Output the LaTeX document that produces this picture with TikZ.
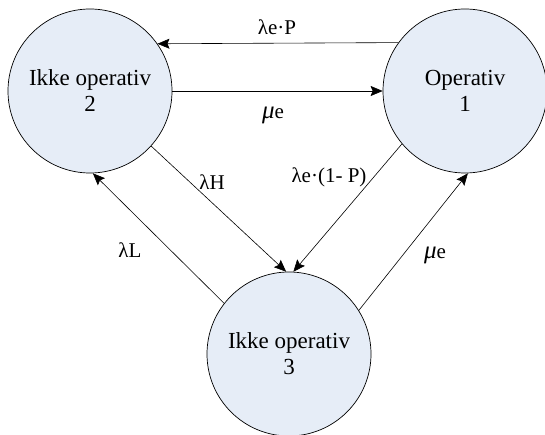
\documentclass[tikz,border=0pt]{standalone}
\usepackage{fontspec}
\setmainfont{Liberation Serif}
\usetikzlibrary{arrows.meta}
\definecolor{statefill}{RGB}{230,237,247}
\tikzset{
  state/.style={circle, draw=black, line width=0.7pt, fill=statefill,
    minimum size=164pt, inner sep=0pt, align=center,
    font=\fontsize{23}{26}\selectfont},
  trans/.style={line width=0.6pt, -{Stealth[length=12pt,width=10pt,inset=2pt]}},
  rate/.style={font=\fontsize{21}{24}\selectfont, inner sep=0pt},
}
\newcommand{\mue}{{\fontsize{25}{25}\selectfont\itshape μ}e}
\begin{document}
\begin{tikzpicture}[x=1pt,y=-1pt]
  \useasboundingbox (0,0) rectangle (545,435);
  % states
  \node[state] (s2) at (90,91) {Ikke operativ\\2};
  \node[state] (s1) at (465,91) {Operativ\\1};
  \node[state] (s3) at (289,354) {Ikke operativ\\3};
  % transitions
  \draw[trans] (s1.144.2) -- (s2.35.8);
  \draw[trans] (s2.east) -- (s1.west);
  \draw[trans] (s2.-42.2) -- (s3.92.7);
  \draw[trans] (s1.-140.6) -- (s3.87.3);
  \draw[trans] (s3.142.3) -- (s2.-88);
  \draw[trans] (s3.32.5) -- (s1.-88);
  % rates
  \node[rate] (r21) at (277,27) {λe·P};
  \node[rate] (r12) at (273,115) {\mue};
  \node[rate] (r23) at (212,182) {λH};
  \node[rate] (r13) at (329,177) {λe·(1- P)};
  \node[rate] (r32) at (130,250) {λL};
  \node[rate] (r31) at (435,255) {\mue};
\end{tikzpicture}
\end{document}
